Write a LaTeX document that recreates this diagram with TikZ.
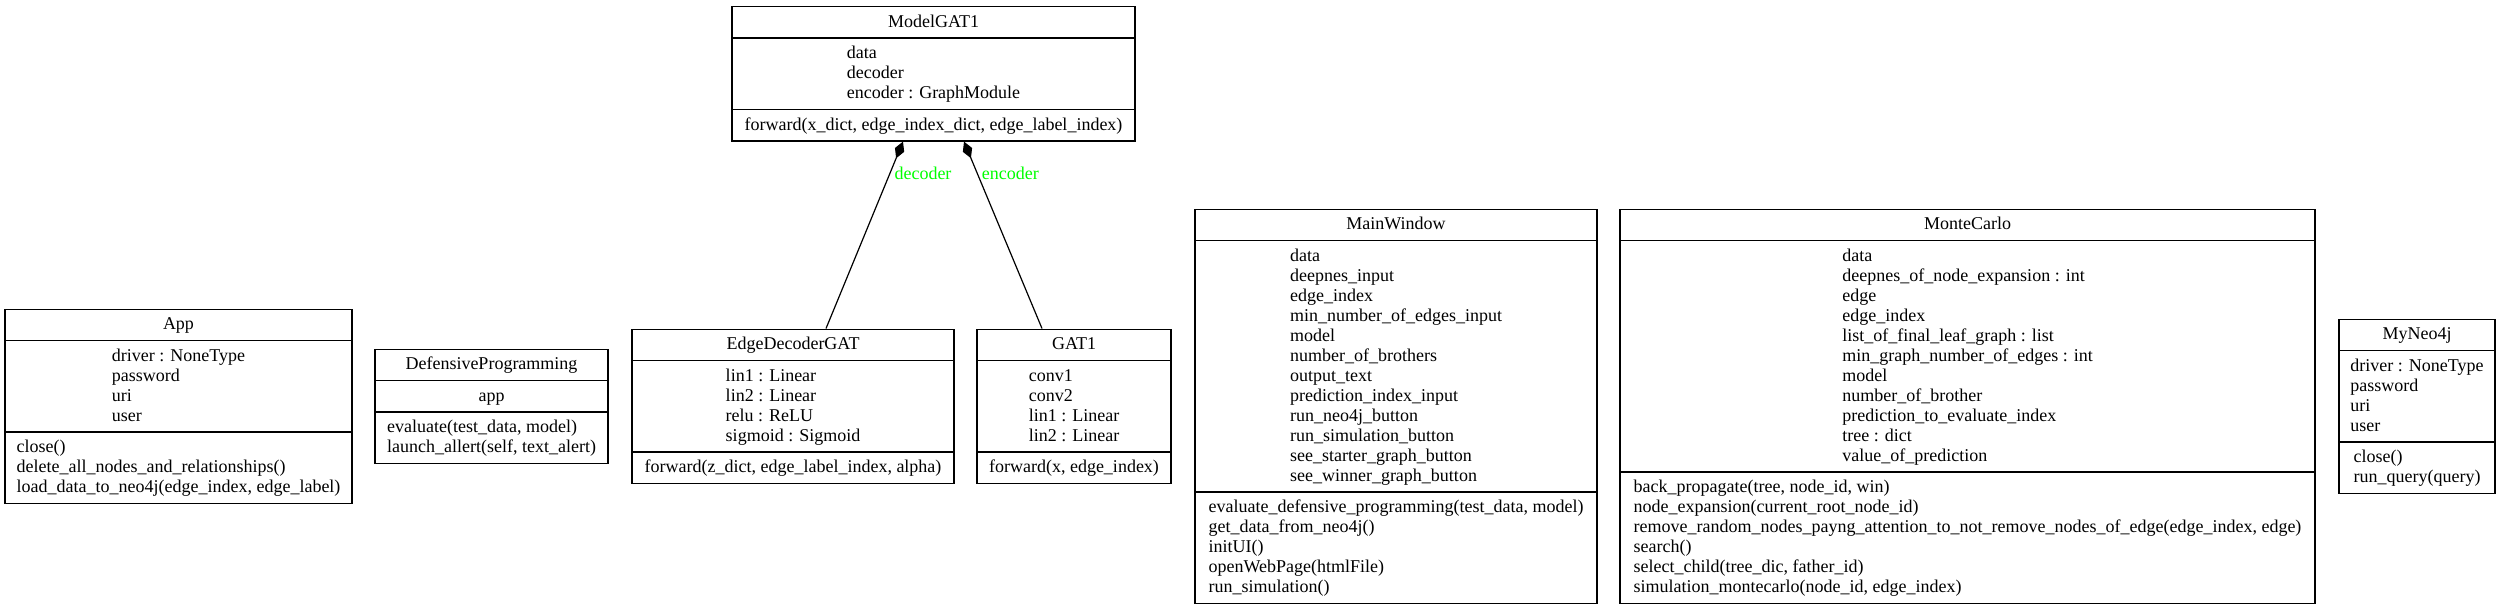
\documentclass[tikz,border=0pt]{standalone}
\usepackage{fontspec}
\setmainfont{Liberation Serif}
\usetikzlibrary{arrows.meta, shapes.multipart, calc}
\definecolor{lblgreen}{HTML}{00FF00}
\newcommand{\lstrut}{\rule[-2.5pt]{0pt}{10pt}}
\newcommand{\umlparts}[3]{\lstrut#1\lstrut\nodepart{two}\lstrut#2\lstrut\nodepart{three}\lstrut#3\lstrut}
\tikzset{
  every picture/.style={line width=0.7pt},
  umlclass/.style={draw, rectangle split, rectangle split parts=3, align=left, anchor=north,
    font=\fontsize{9}{10}\selectfont, inner xsep=4pt, inner ysep=2.5pt},
  comp/.style={-{Diamond[length=9pt, width=5pt]}, line width=0.6pt},
  role/.style={font=\fontsize{9}{10}\selectfont, text=lblgreen, anchor=west, inner sep=2pt},
}

\begin{document}
\begin{tikzpicture}[x=0.5pt, y=-0.5pt]
  \useasboundingbox (0,0) rectangle (2500,605);
  % the model on top
  \node[umlclass, minimum width=201.5pt] (model) at (933.5,6)
    {\umlparts{ModelGAT1}{data\\decoder\\encoder : GraphModule}{forward(x\_dict, edge\_index\_dict, edge\_label\_index)}};
  % the row of classes
  \node[umlclass, minimum width=173.5pt] (app) at (178.5,308.5)
    {\umlparts{App}{driver : NoneType\\password\\uri\\user}{close()\\delete\_all\_nodes\_and\_relationships()\\load\_data\_to\_neo4j(edge\_index, edge\_label)}};
  \node[umlclass, minimum width=116.5pt] (defprog) at (491.5,348.5)
    {\umlparts{DefensiveProgramming}{app}{evaluate(test\_data, model)\\launch\_allert(self, text\_alert)}};
  \node[umlclass, minimum width=161pt] (dec) at (793,328.5)
    {\umlparts{EdgeDecoderGAT}{lin1 : Linear\\lin2 : Linear\\relu : ReLU\\sigmoid : Sigmoid}{forward(z\_dict, edge\_label\_index, alpha)}};
  \node[umlclass, minimum width=97pt] (gat) at (1074,328.5)
    {\umlparts{GAT1}{conv1\\conv2\\lin1 : Linear\\lin2 : Linear}{forward(x, edge\_index)}};
  \node[umlclass, minimum width=201pt] (win) at (1396,208.5)
    {\umlparts{MainWindow}{data\\deepnes\_input\\edge\_index\\min\_number\_of\_edges\_input\\model\\number\_of\_brothers\\output\_text\\prediction\_index\_input\\run\_neo4j\_button\\run\_simulation\_button\\see\_starter\_graph\_button\\see\_winner\_graph\_button}{evaluate\_defensive\_programming(test\_data, model)\\get\_data\_from\_neo4j()\\initUI()\\openWebPage(htmlFile)\\run\_simulation()}};
  \node[umlclass, minimum width=347.5pt] (mc) at (1967.5,208.5)
    {\umlparts{MonteCarlo}{data\\deepnes\_of\_node\_expansion : int\\edge\\edge\_index\\list\_of\_final\_leaf\_graph : list\\min\_graph\_number\_of\_edges : int\\model\\number\_of\_brother\\prediction\_to\_evaluate\_index\\tree : dict\\value\_of\_prediction}{back\_propagate(tree, node\_id, win)\\node\_expansion(current\_root\_node\_id)\\remove\_random\_nodes\_payng\_attention\_to\_not\_remove\_nodes\_of\_edge(edge\_index, edge)\\search()\\select\_child(tree\_dic, father\_id)\\simulation\_montecarlo(node\_id, edge\_index)}};
  \node[umlclass, minimum width=78pt] (neo) at (2417,318.5)
    {\umlparts{MyNeo4j}{driver : NoneType\\password\\uri\\user}{close()\\run\_query(query)}};
  % composition links
  \draw[comp] ($(dec.north)+(33,0)$) -- ($(model.south)+(-30.5,0)$) node[role, pos=0.83] {decoder};
  \draw[comp] ($(gat.north)+(-32,0)$) -- ($(model.south)+(30.5,0)$) node[role, pos=0.83] {encoder};
\end{tikzpicture}
\end{document}
